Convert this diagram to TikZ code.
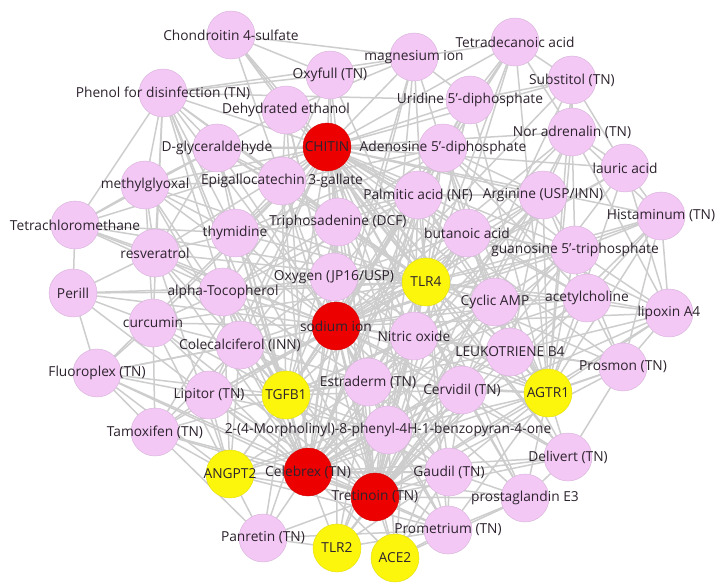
\documentclass[tikz,border=0pt]{standalone}
\usepackage{fontspec}
\setmainfont{Open Sans}
\pgfdeclarelayer{edges}
\pgfdeclarelayer{labels}
\pgfsetlayers{edges,main,labels}
\definecolor{pinkn}{RGB}{243,200,245}
\definecolor{redn}{RGB}{236,0,0}
\definecolor{yelln}{RGB}{252,246,12}
\definecolor{edgec}{RGB}{205,205,205}
\definecolor{txtc}{RGB}{45,35,45}
\tikzset{
  cpd/.style={circle, fill=pinkn, draw=pinkn!88!black, line width=0.4bp, minimum size=48bp, inner sep=0pt},
  hubr/.style={cpd, fill=redn, draw=redn!90!black},
  hubg/.style={cpd, fill=yelln, draw=yelln!90!black},
  lbl/.style={font=\fontsize{13.8}{16}\selectfont, text=txtc, inner sep=0pt},
  edge/.style={draw=edgec, line width=1.5bp},
}
\newcommand\gnode[5]{%
  \node[#4] (#1) at (#2,#3) {};
  \begin{pgfonlayer}{labels}\node[lbl] at (#1) {#5};\end{pgfonlayer}}
\begin{document}
\begin{tikzpicture}[x=1bp,y=-1bp]
\useasboundingbox (0,0) rectangle (720,587);
\gnode{chon}{231}{35}{cpd}{Chondroitin 4-sulfate}
\gnode{phen}{163}{93}{cpd}{Phenol for disinfection (TN)}
\gnode{oxyf}{330}{75}{cpd}{Oxyfull (TN)}
\gnode{dehy}{286}{110}{cpd}{Dehydrated ethanol}
\gnode{chit}{327}{147}{hubr}{CHITIN}
\gnode{dgly}{217}{148}{cpd}{D-glyceraldehyde}
\gnode{meth}{145}{185}{cpd}{methylglyoxal}
\gnode{epig}{282}{181}{cpd}{Epigallocatechin 3-gallate}
\gnode{magn}{414}{57}{cpd}{magnesium ion}
\gnode{tetr}{515}{42}{cpd}{Tetradecanoic acid}
\gnode{subs}{572}{80}{cpd}{Substitol (TN)}
\gnode{urid}{470}{100}{cpd}{Uridine 5'-diphosphate}
\gnode{nora}{572}{132}{cpd}{Nor adrenalin (TN)}
\gnode{aden}{443}{148}{cpd}{Adenosine 5'-diphosphate}
\gnode{laur}{625}{168}{cpd}{lauric acid}
\gnode{palm}{418}{195}{cpd}{Palmitic acid (NF)}
\gnode{argi}{543}{195}{cpd}{Arginine (USP/INN)}
\gnode{hist}{661}{216}{cpd}{Histaminum (TN)}
\gnode{buta}{467}{233}{cpd}{butanoic acid}
\gnode{guan}{575}{250}{cpd}{guanosine 5'-triphosphate}
\gnode{tlr4}{426}{282}{hubg}{TLR4}
\gnode{cycl}{495}{302}{cpd}{Cyclic AMP}
\gnode{acet}{587}{298}{cpd}{acetylcholine}
\gnode{lipo}{669}{313}{cpd}{lipoxin A4}
\gnode{nitr}{414}{336}{cpd}{Nitric oxide}
\gnode{leuk}{510}{352}{cpd}{LEUKOTRIENE B4}
\gnode{pros}{623}{367}{cpd}{Prosmon (TN)}
\gnode{cerv}{462}{390}{cpd}{Cervidil (TN)}
\gnode{agtr}{548}{393}{hubg}{AGTR1}
\gnode{estr}{368}{382}{cpd}{Estraderm (TN)}
\gnode{tetc}{75}{225}{cpd}{Tetrachloromethane}
\gnode{resv}{155}{253}{cpd}{resveratrol}
\gnode{thym}{235}{233}{cpd}{thymidine}
\gnode{trip}{338}{222}{cpd}{Triphosadenine (DCF)}
\gnode{peri}{73}{293}{cpd}{Perill}
\gnode{alph}{223}{292}{cpd}{alpha-Tocopherol}
\gnode{oxyg}{334}{277}{cpd}{Oxygen (JP16/USP)}
\gnode{curc}{153}{323}{cpd}{curcumin}
\gnode{sodi}{336}{326}{hubr}{sodium ion}
\gnode{cole}{240}{345}{cpd}{Colecalciferol (INN)}
\gnode{fluo}{97}{373}{cpd}{Fluoroplex (TN)}
\gnode{lipi}{209}{395}{cpd}{Lipitor (TN)}
\gnode{tgfb}{286}{395}{hubg}{TGFB1}
\gnode{tamo}{155}{432}{cpd}{Tamoxifen (TN)}
\gnode{morp}{388}{430}{cpd}{2-(4-Morpholinyl)-8-phenyl-4H-1-benzopyran-4-one}
\gnode{angp}{230}{474}{hubg}{ANGPT2}
\gnode{cele}{308}{472}{hubr}{Celebrex (TN)}
\gnode{tret}{375}{497}{hubr}{Tretinoin (TN)}
\gnode{gaud}{449}{472}{cpd}{Gaudil (TN)}
\gnode{deli}{568}{457}{cpd}{Delivert (TN)}
\gnode{prsE}{525}{498}{cpd}{prostaglandin E3}
\gnode{prom}{448}{530}{cpd}{Prometrium (TN)}
\gnode{panr}{263}{538}{cpd}{Panretin (TN)}
\gnode{tlrb}{337}{548}{hubg}{TLR2}
\gnode{acee}{395}{558}{hubg}{ACE2}
\begin{pgfonlayer}{edges}
\fill[white] (0,0) rectangle (720,587);
\foreach \a/\bs in {
 chit/{chon,phen,oxyf,dehy,dgly,meth,epig,magn,tetr,subs,urid,nora,aden,laur,palm,argi,hist,buta,guan,cycl,acet,lipo,nitr,leuk,pros,cerv,estr,tetc,resv,thym,trip,alph,oxyg,curc,cole,fluo,lipi,tamo,morp,gaud,deli,prsE,prom,sodi,tlr4,tgfb,agtr},
 sodi/{phen,oxyf,dehy,dgly,meth,epig,magn,tetr,subs,urid,nora,aden,laur,palm,argi,hist,buta,guan,cycl,acet,lipo,nitr,leuk,pros,cerv,estr,tetc,resv,thym,trip,peri,alph,oxyg,curc,cole,fluo,lipi,tamo,morp,gaud,deli,prsE,prom,panr,tlr4,tgfb,agtr,cele,tret,tlrb,acee,angp},
 cele/{phen,dehy,dgly,meth,epig,magn,urid,aden,palm,argi,buta,guan,cycl,acet,nitr,leuk,pros,cerv,estr,resv,thym,trip,peri,alph,oxyg,curc,cole,fluo,lipi,tamo,morp,gaud,deli,prsE,prom,panr,tret,tlrb,acee,angp,tgfb,lipo},
 tret/{oxyf,dehy,epig,magn,tetr,subs,urid,nora,aden,laur,palm,argi,hist,buta,guan,cycl,acet,lipo,nitr,leuk,pros,cerv,estr,thym,trip,alph,oxyg,curc,cole,fluo,lipi,tamo,morp,gaud,deli,prsE,prom,panr,tlrb,acee,agtr,angp},
 tlr4/{chon,phen,oxyf,dehy,dgly,meth,epig,magn,tetr,urid,nora,aden,laur,palm,argi,hist,buta,guan,cycl,acet,lipo,nitr,leuk,pros,cerv,estr,tetc,resv,thym,trip,peri,alph,oxyg,curc,cole,lipi,morp,gaud,deli,prsE,prom},
 tgfb/{phen,dgly,meth,epig,aden,palm,buta,cycl,acet,nitr,leuk,cerv,estr,resv,thym,trip,alph,oxyg,curc,cole,fluo,lipi,tamo,morp,gaud,prom,panr,angp},
 agtr/{urid,nora,aden,laur,argi,hist,guan,cycl,acet,lipo,nitr,leuk,pros,cerv,estr,buta,subs,tetr,morp,gaud,deli,prsE,prom,palm,oxyg},
 angp/{tamo,fluo,lipi,cole,curc,panr,morp,estr,cerv,gaud,prom,alph,resv},
 tlrb/{panr,morp,gaud,prom,estr,cerv,nitr},
 acee/{prom,gaud,morp,nitr,cerv,prsE},
 chon/{dehy,oxyf,magn,epig},
 phen/{oxyf,tetc,meth,resv,dgly,epig,thym,alph,curc,magn,urid},
 tetc/{resv,peri,meth,thym,alph,dgly},
 peri/{curc,resv,alph,fluo},
 fluo/{curc,tamo,lipi,cole},
 tamo/{panr,lipi,cole,curc},
 panr/{prom},
 lipo/{hist,acet,pros,guan,laur,nora,leuk},
 hist/{laur,nora,guan,acet,pros},
 pros/{deli,acet,leuk,guan},
 deli/{prsE,gaud,leuk,cerv},
 prsE/{gaud,prom,cerv},
 tetr/{magn,subs,urid,nora,aden},
 subs/{nora,urid,laur},
 magn/{oxyf,urid,aden,dehy},
 nora/{laur,argi,guan},
 aden/{palm,argi,buta,guan,cycl,acet,trip,epig,dgly,thym,oxyg,urid},
 palm/{argi,buta,cycl,nitr,trip,thym,alph,epig,estr},
 argi/{buta,guan,cycl,acet,leuk,nitr},
 buta/{guan,cycl,acet,nitr,leuk,trip,oxyg},
 cycl/{acet,leuk,nitr,cerv,estr,guan},
 nitr/{leuk,cerv,estr,oxyg,trip,morp},
 estr/{cerv,morp,gaud,cole,alph},
 trip/{thym,alph,oxyg,epig,dgly,cole},
 thym/{alph,dgly,epig,resv,meth},
 alph/{cole,curc,resv,oxyg},
 cole/{lipi,curc,oxyg,morp},
 morp/{gaud,cerv,prom,lipi},
 gaud/{prom,cerv},
 epig/{dgly,dehy,oxyf,meth},
 dgly/{meth,dehy,resv},
 meth/{resv,curc}}{\foreach \b in \bs {\draw[edge] (\a) -- (\b);}}
\end{pgfonlayer}
\end{tikzpicture}
\end{document}
